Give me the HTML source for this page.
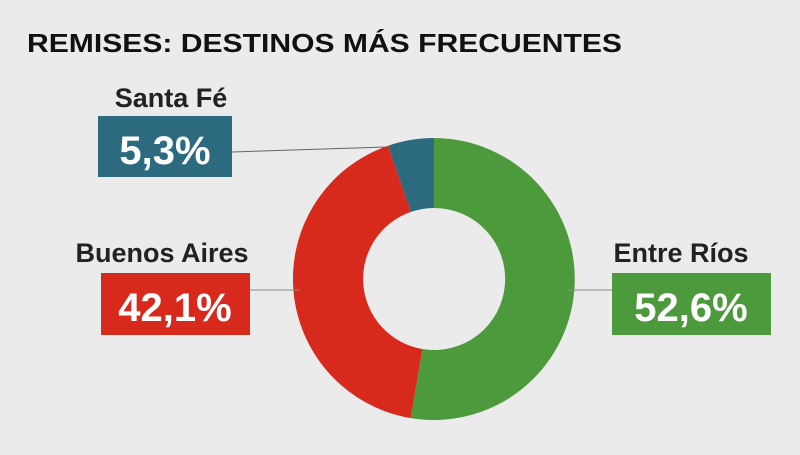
<!DOCTYPE html>
<html><head><meta charset="utf-8"><style>
body{margin:0;width:800px;height:450px;background:#ebebeb;overflow:hidden;font-family:"Liberation Sans",sans-serif}
</style></head><body>
<svg width="800" height="450" xmlns="http://www.w3.org/2000/svg">
<rect width="800" height="450" fill="#ebebeb"/>
<text x="27" y="52" font-size="26" font-weight="bold" fill="#111" font-family="Liberation Sans,sans-serif" textLength="595" lengthAdjust="spacingAndGlyphs">REMISES: DESTINOS MÁS FRECUENTES</text>
<g transform="translate(434,279)">
<path d="M0,-141 A141,141 0 1,1 -23.3,139.1 L-11.7,70.0 A71,71 0 1,0 0,-71 Z" fill="#4c9a3c"/>
<path d="M-23.3,139.1 A141,141 0 0,1 -45.9,-133.3 L-23.1,-67.1 A71,71 0 0,0 -11.7,70.0 Z" fill="#d8291d"/>
<path d="M-45.9,-133.3 A141,141 0 0,1 0,-141 L0,-71 A71,71 0 0,0 -23.1,-67.1 Z" fill="#2c6a7f"/>
</g>
<line x1="232" y1="152" x2="385" y2="147" stroke="#666" stroke-width="1"/>
<line x1="250" y1="290" x2="300" y2="290" stroke="#888" stroke-width="1"/>
<line x1="566" y1="290" x2="612" y2="290" stroke="#888" stroke-width="1"/>
<g font-family="Liberation Sans,sans-serif" font-weight="bold" text-anchor="middle">
<text x="171" y="107" font-size="27" fill="#222">Santa Fé</text>
<rect x="98" y="116" width="134" height="61" fill="#2c6a7f"/>
<text x="165" y="164" font-size="40" fill="#fff">5,3%</text>
<text x="162" y="262" font-size="27" fill="#222">Buenos Aires</text>
<rect x="101" y="273" width="149" height="62" fill="#d8291d"/>
<text x="175" y="321" font-size="40" fill="#fff">42,1%</text>
<text x="681" y="262" font-size="27" fill="#222">Entre Ríos</text>
<rect x="612" y="273" width="159" height="62" fill="#4c9a3c"/>
<text x="691" y="321" font-size="40" fill="#fff">52,6%</text>
</g>
</svg>
</body></html>
